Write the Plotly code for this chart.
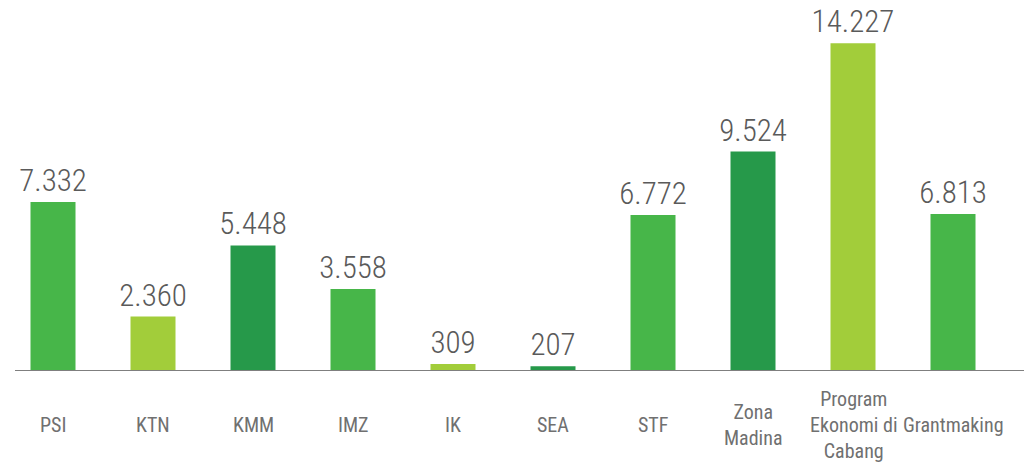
import plotly.graph_objects as go

# Program names (line breaks where the label wraps) and their values
programs = ["PSI", "KTN", "KMM", "IMZ", "IK", "SEA", "STF",
            "Zona<br>Madina", "Program<br>Ekonomi di<br>Cabang", "Grantmaking"]
values = [7332, 2360, 5448, 3558, 309, 207, 6772, 9524, 14227, 6813]

MID, LIGHT, DARK = "#47B649", "#A2CD3A", "#26994A"
bar_colors = [MID, LIGHT, DARK, MID, LIGHT, DARK, MID, DARK, LIGHT, MID]

FONT = ("Roboto Condensed, Noto Sans Condensed, Open Sans Condensed, "
        "Liberation Sans Narrow, DejaVu Sans Condensed, sans-serif")

fig = go.Figure(
    go.Bar(
        x=list(range(len(programs))),
        y=values,
        width=0.45,
        marker=dict(color=bar_colors, line=dict(width=0)),
        texttemplate="%{y:,}",
        textposition="outside",
        constraintext="none",
        textfont=dict(family=FONT, size=31, color="#5A5A5A", weight=300),
        cliponaxis=False,
        hoverinfo="skip",
    )
)

# category names under the baseline, each centred on the same row
for i, name in enumerate(programs):
    fig.add_annotation(
        x=i, y=0, xref="x", yref="paper", yshift=-54,
        text=name, showarrow=False, yanchor="middle", xanchor="center",
        font=dict(family=FONT, size=20, color="#707070", weight=400),
    )

fig.update_layout(
    width=1024, height=462,
    margin=dict(l=15, r=0, t=0, b=91),
    paper_bgcolor="white", plot_bgcolor="white",
    separators=",.",
    showlegend=False,
    xaxis=dict(range=[-0.38, 9.71], showticklabels=False, showgrid=False,
               zeroline=False, showline=False, ticks=""),
    yaxis=dict(range=[0, 16100], visible=False),
    shapes=[dict(type="line", xref="paper", yref="y", x0=0, x1=1, y0=0, y1=0,
                 line=dict(color="#7F7F7F", width=2))],
)

fig.write_html("out.html")
